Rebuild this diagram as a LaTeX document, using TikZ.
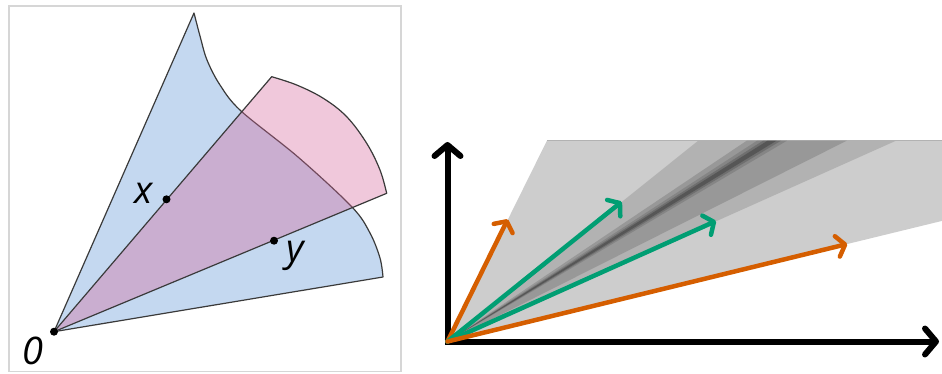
\documentclass[tikz,border=0pt]{standalone}
\usepackage{fontspec}
\setmainfont{Open Sans}
\usetikzlibrary{arrows.meta}
\definecolor{ConeBlue}{HTML}{C4D8F0}
\definecolor{ConePink}{HTML}{D5669A}
\definecolor{EdgeGray}{HTML}{3A3A3A}
\definecolor{FrameGray}{HTML}{D6D6D6}
\definecolor{VecOrange}{HTML}{D55E00}
\definecolor{VecGreen}{HTML}{009E73}
\definecolor{BandLight}{HTML}{CDCDCD}
\definecolor{BandMid}{HTML}{B2B2B2}
\definecolor{BandDark}{HTML}{989898}

\begin{document}
\begin{tikzpicture}[
  x=1pt,
  y=-1pt,
  cone/.style={draw=EdgeGray, line width=1.2pt, line join=round},
  dot/.style={circle, fill=black, inner sep=0pt, minimum size=8pt},
  lbl/.style={font=\itshape\fontsize{38}{38}\selectfont, inner sep=0pt},
  axis/.style={line width=6pt, -{Straight Barb[length=11pt,width=26pt,round]}},
  vec/.style={line width=4.5pt, line cap=round, -{Straight Barb[length=8pt,width=21pt,round]}},
  streak/.style={fill=black, fill opacity=#1},
]
\useasboundingbox (0,0) rectangle (942,373);

% left panel
\draw[FrameGray, line width=1.5pt] (9,6) rectangle (401,371.5);

\coordinate (O) at (54,331.7);

\filldraw[cone, fill=ConeBlue] (O) -- plot[smooth, tension=0.55] coordinates {
  (194,13) (200,36) (207,60) (220,85) (241,111) (298,157) (352,207) (370,233) (380,258) (383,277)} -- cycle;

\filldraw[cone, fill=ConePink, fill opacity=0.36] (O) -- plot[smooth, tension=0.6] coordinates {
  (271.7,76.7) (296.7,85) (323.3,98.3) (346.7,116.7) (366.7,143.3) (380,170) (386.7,193.3)} -- cycle;

\node[dot] (xdot) at (166.5,199.3) {};
\node[dot] (ydot) at (274,240.7) {};
\node[dot] (odot) at (O) {};

\node[lbl] (xlab) at (144,193.5) {x};
\node[lbl] (ylab) at (295,256) {y};
\node[lbl] (olab) at (33,350.5) {0};

% right panel
\coordinate (o) at (447.5,341.5);
\coordinate (orangeA) at (507.7,219.3);
\coordinate (greenA) at (621.7,201.7);
\coordinate (greenB) at (716,221);
\coordinate (orangeB) at (847.3,244);
\coordinate (ytip) at (447.5,142);
\coordinate (xtip) at (939,341.5);

\fill[BandLight] (o) -- (546.9,140.7) -- (942,140.7) -- (942,220.9) -- cycle;
\draw[BandMid, line width=1pt] (546.9,140.7) -- (942,140.7);
\fill[BandMid] (o) -- (698.2,140.7) -- (896,140.7) -- cycle;
\fill[BandDark] (o) -- (746.7,140.7) -- (846.7,140.7) -- cycle;
\fill[streak=0.12] (o) -- (757,140.7) -- (787,140.7) -- cycle;
\fill[streak=0.16] (o) -- (763,140.7) -- (781,140.7) -- cycle;
\fill[streak=0.22] (o) -- (767.5,140.7) -- (776.5,140.7) -- cycle;

\draw[axis] (447.5,344.5) -- (ytip);
\draw[axis] (444.5,341.5) -- (xtip);

\draw[vec, VecOrange] (o) -- (orangeA);
\draw[vec, VecGreen] (o) -- (greenA);
\draw[vec, VecGreen] (o) -- (greenB);
\draw[vec, VecOrange] (o) -- (orangeB);
\end{tikzpicture}
\end{document}
